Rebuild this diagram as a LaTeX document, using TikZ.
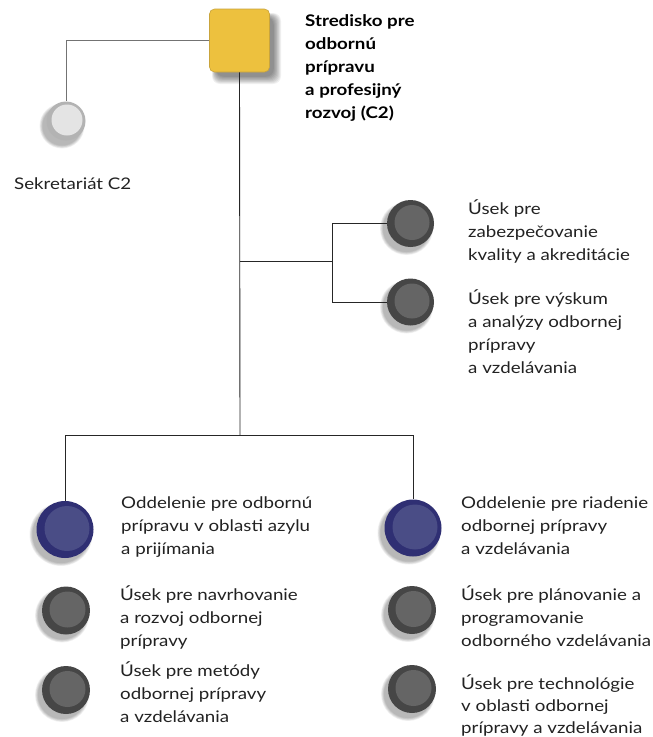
\documentclass[tikz,border=0pt]{standalone}
\usepackage{fontspec}
\setmainfont{Lato}[FakeStretch=1.17]
\usetikzlibrary{calc}
\definecolor{ylw}{HTML}{EDC13E}
\definecolor{ylwb}{HTML}{C9A43C}
\definecolor{gout}{HTML}{464646}
\definecolor{gin}{HTML}{656565}
\definecolor{bout}{HTML}{2F2F73}
\definecolor{bin}{HTML}{4A4D86}
\definecolor{sout}{HTML}{B3B3B3}
\definecolor{sin}{HTML}{E4E4E4}
\definecolor{txt}{HTML}{222222}
\tikzset{
  conn/.style={line width=0.9pt, draw=black!85},
  connl/.style={line width=0.9pt, draw=black!55},
  orgc/.style={circle, inner sep=0pt, minimum size=#1},
  lbl/.style={anchor=north west, inner sep=0pt, align=left, text=txt,
    font=\fontsize{16}{23}\selectfont},
  lblb/.style={anchor=north west, inner sep=0pt, align=left, text=black,
    font=\fontsize{16}{23}\selectfont\bfseries},
}
\newcommand{\softshadow}[3]{% x y r
  \foreach \k in {0,...,5}{
    \fill[black, opacity=0.05] ($(#1,#2)+(-4,5)$) circle ({#3+3-0.6*\k});
  }
}
\begin{document}
\begin{tikzpicture}[x=1pt,y=-1pt]
\useasboundingbox (0,0) rectangle (653,737);
\fill[white] (0,0) rectangle (653,737);

% yellow square shadow
\foreach \k in {0,...,8}{
  \fill[black, opacity=0.06, rounded corners=8] ($(212,13)+(\k*0.5,\k*0.5)$) rectangle ($(281,84)+(-\k*0.9,-\k*0.9)$);
}
\node[draw=ylwb, fill=ylw, rounded corners=5, minimum width=60, minimum height=63, inner sep=0pt, line width=0.6pt] (top) at (239.5,40.5) {};

% shadows of circles
\softshadow{66}{121}{19.5}
\softshadow{410.5}{223.5}{23.5}
\softshadow{410.5}{302}{23.5}
\softshadow{65}{529.5}{28.5}
\softshadow{413}{528}{28.5}
\softshadow{66}{610.5}{24}
\softshadow{66}{690}{24}
\softshadow{412}{610}{24}
\softshadow{412}{689}{24}

% circles
\node[orgc=39, fill=sout] (sek) at (66,121) {};
\fill[sin] ($(sek)+(1,-1)$) circle (15.5);

\node[orgc=47, fill=gout] (q1) at (410.5,223.5) {};
\fill[gin] ($(q1)+(1.5,-1)$) circle (17.5);
\node[orgc=47, fill=gout] (q2) at (410.5,302) {};
\fill[gin] ($(q2)+(1.5,-1)$) circle (17.5);

\node[orgc=57, fill=bout] (b1) at (65,529.5) {};
\fill[bin] ($(b1)+(2,-1)$) circle (22.5);
\node[orgc=57, fill=bout] (b2) at (413,528) {};
\fill[bin] ($(b2)+(2,-1)$) circle (22.5);

\node[orgc=48, fill=gout] (l1) at (66,610.5) {};
\fill[gin] ($(l1)+(1.5,-1)$) circle (18);
\node[orgc=48, fill=gout] (l2) at (66,690) {};
\fill[gin] ($(l2)+(1.5,-1)$) circle (18);
\node[orgc=48, fill=gout] (r1) at (412,610) {};
\fill[gin] ($(r1)+(1.5,-1)$) circle (18);
\node[orgc=48, fill=gout] (r2) at (412,689) {};
\fill[gin] ($(r2)+(1.5,-1)$) circle (18);

% connectors
\coordinate (j1) at (240,261);
\coordinate (j2) at (332,261);
\coordinate (j3) at (240,435);
\draw[connl] (top.west) -| (sek.north);
\draw[conn] (top.south) -- (j3);
\draw[conn] (j1) -- (j2);
\draw[conn] (j2) |- (q1.west);
\draw[conn] (j2) |- (q2.west);
\draw[conn] (j3) -| (b1.north);
\draw[conn] (j3) -| (b2.north);

% texts
\node[lblb] (ttop) at (305,14) {Stredisko pre\\odbornú\\prípravu\\a profesijný\\rozvoj (C2)};
\node[lbl] (tsek) at (14,178) {Sekretariát C2};
\node[lbl] (tq1) at (468,199) {Úsek pre\\zabezpečovanie\\kvality a akreditácie};
\node[lbl] (tq2) at (468,289) {Úsek pre výskum\\a analýzy odbornej\\prípravy\\a vzdelávania};
\node[lbl] (tb1) at (121,497) {Oddelenie pre odbornú\\prípravu v oblasti azylu\\a prijímania};
\node[lbl] (tl1) at (120,585) {Úsek pre navrhovanie\\a rozvoj odbornej\\prípravy};
\node[lbl] (tl2) at (120,661) {Úsek pre metódy\\odbornej prípravy\\a vzdelávania};
\node[lbl] (tb2) at (461,497) {Oddelenie pre riadenie\\odbornej prípravy\\a vzdelávania};
\node[lbl] (tr1) at (461,585) {Úsek pre plánovanie a\\programovanie\\odborného vzdelávania};
\node[lbl, font=\fontsize{16}{22}\selectfont] (tr2) at (461,674) {Úsek pre technológie\\v oblasti odbornej\\prípravy a vzdelávania};
\end{tikzpicture}
\end{document}
